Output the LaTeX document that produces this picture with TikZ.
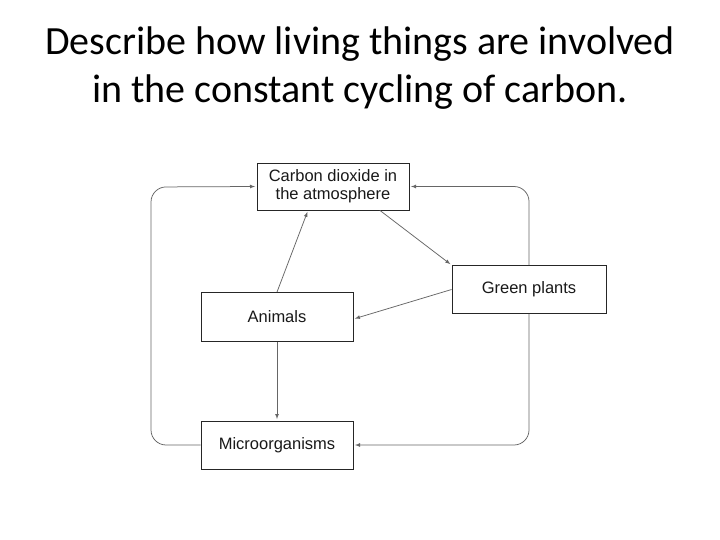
\documentclass[tikz,border=0pt]{standalone}
\usepackage{fontspec}
\setmainfont{Carlito}
\newfontfamily\boxfont{Liberation Sans}
\usetikzlibrary{arrows,positioning}
\tikzset{>=latex}

\begin{document}
\begin{tikzpicture}[x=1pt, y=-1pt]

    % boxes of the cycle, lines between them
    \tikzstyle{box}=[rectangle, draw=black!85, line width=0.9pt, fill=white, minimum width=152pt, minimum height=48pt, inner sep=0pt, align=center, text=black!90, font=\boxfont\fontsize{16.5}{17.7}\selectfont]
    \tikzstyle{every edge}=[draw=black!60, ->, line width=0.75pt, shorten >=1.5pt]
    \fill[white] (0,0) rectangle (720,540);

    \node[align=center, font=\fontsize{40}{47.7}\selectfont] (title) at (360,68) {Describe how living things are involved\\in the constant cycling of carbon.};

    \node[box, minimum height=47pt] (co2) at (333,186.5) {Carbon dioxide in\\the atmosphere};
    \node[box, minimum width=154pt] (plants) at (529,289.5) {Green plants};
    \node[box, minimum height=49pt] (animals) at (277,317) {Animals};
    \node[box] (micro) at (277,445) {Microorganisms};

    \draw ([xshift=-29.5pt]co2.south east) edge (plants.north west);
    \draw (plants.west) edge ([yshift=-2pt]animals.east);
    \draw (animals.north) edge ([xshift=-25pt]co2.south);
    \draw (animals.south) edge (micro.north);

    % outer loops with round corners
    \draw[draw=black!60, ->, line width=0.75pt, rounded corners=15pt, shorten >=1.5pt] (micro.west) -| (151,187) -- (co2.west);
    \draw[draw=black!60, ->, line width=0.75pt, rounded corners=15pt, shorten >=1.5pt] (plants.north) |- (co2.east);
    \draw[draw=black!60, ->, line width=0.75pt, rounded corners=15pt, shorten >=1.5pt] (plants.south) |- (micro.east);
\end{tikzpicture}
\end{document}
